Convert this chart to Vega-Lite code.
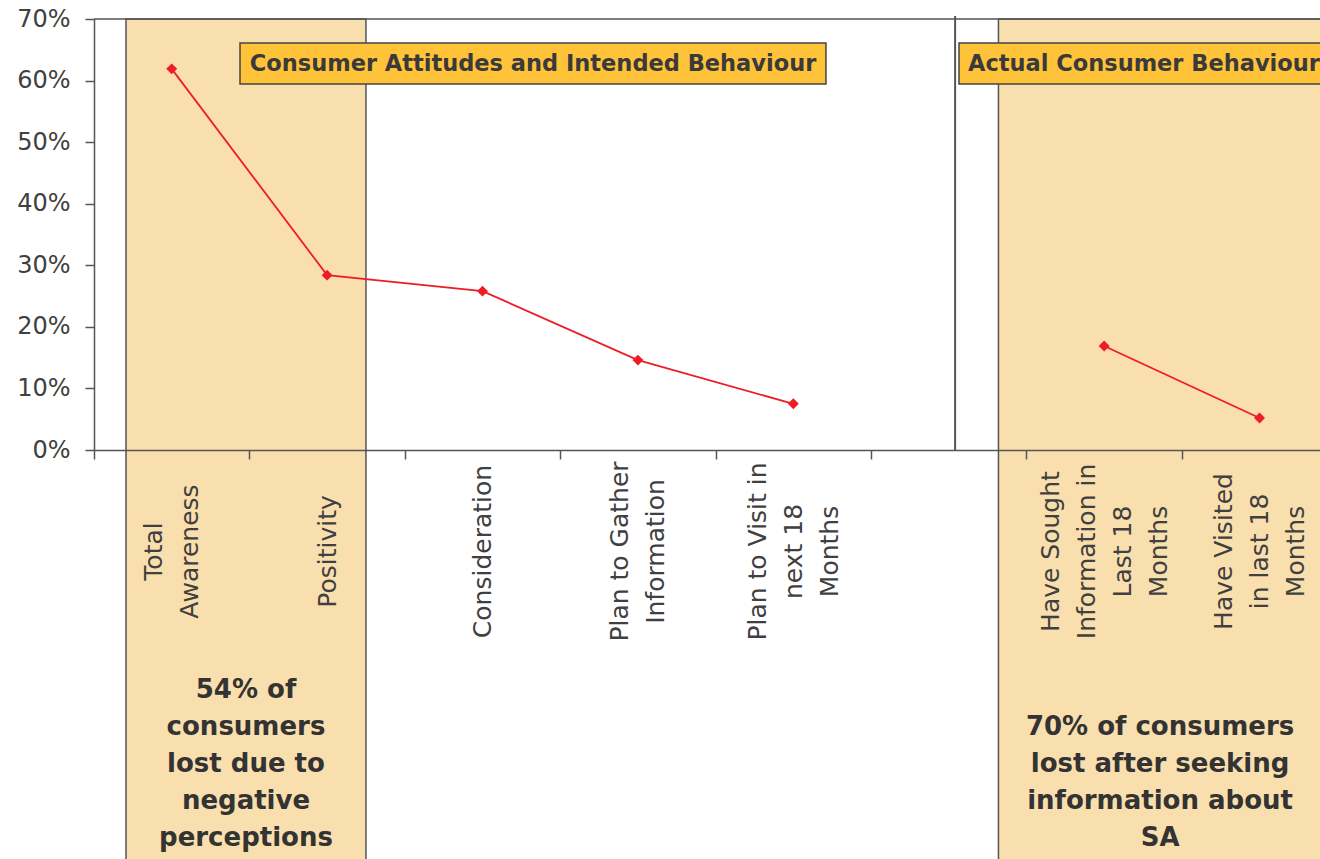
{
  "$schema": "https://vega.github.io/schema/vega-lite/v6.json",
  "autosize": "none",
  "width": 1226,
  "height": 431,
  "padding": {"left": 94, "top": 19, "right": 0, "bottom": 409},
  "background": "white",
  "view": {"stroke": null},
  "config": {"font": "DejaVu Sans"},
  "data": {
    "values": [
      {"category": "Total Awareness", "pos": 0.5, "value": 0.619, "stage": "Intended"},
      {"category": "Positivity", "pos": 1.5, "value": 0.284, "stage": "Intended"},
      {"category": "Consideration", "pos": 2.5, "value": 0.258, "stage": "Intended"},
      {"category": "Plan to Gather Information", "pos": 3.5, "value": 0.146, "stage": "Intended"},
      {"category": "Plan to Visit in next 18 Months", "pos": 4.5, "value": 0.075, "stage": "Intended"},
      {"category": "Have Sought Information in Last 18 Months", "pos": 6.5, "value": 0.169, "stage": "Actual"},
      {"category": "Have Visited in last 18 Months", "pos": 7.5, "value": 0.052, "stage": "Actual"}
    ]
  },
  "layer": [
    {
      "data": {"values": [{}]},
      "mark": {"type": "rect", "fill": "#f9dfad", "stroke": "#555555", "strokeWidth": 1.5},
      "encoding": {
        "x": {
          "datum": 0.206, "type": "quantitative",
          "scale": {"domain": [0, 7.889], "nice": false, "zero": false},
          "axis": {
            "values": [0.5, 1.5, 2.5, 3.5, 4.5, 5.5, 6.5, 7.5],
            "labelExpr": "datum.value == 0.5 ? ['Total', 'Awareness'] : datum.value == 1.5 ? 'Positivity' : datum.value == 2.5 ? 'Consideration' : datum.value == 3.5 ? ['Plan to Gather', 'Information'] : datum.value == 4.5 ? ['Plan to Visit in', 'next 18', 'Months'] : datum.value == 6.5 ? ['Have Sought', 'Information in', 'Last 18', 'Months'] : datum.value == 7.5 ? ['Have Visited', 'in last 18', 'Months'] : ''",
            "tickOffset": -77.7,
            "labelOffset": {
              "condition": [
                {"test": "datum.value == 0.5 || datum.value == 3.5", "value": 59.7},
                {"test": "datum.value == 4.5 || datum.value == 7.5", "value": 41.7},
                {"test": "datum.value == 6.5", "value": 23.7}
              ],
              "value": 77.7
            },
            "labelAngle": 270,
            "labelAlign": "center",
            "labelBaseline": "middle",
            "labelPadding": 92,
            "labelLineHeight": 36,
            "labelLimit": 600,
            "labelFont": "DejaVu Sans",
            "labelFontSize": 25,
            "labelColor": "#404040",
            "labelOverlap": false,
            "labelBound": false,
            "labelFlush": false,
            "tickSize": 9,
            "tickColor": "#555555",
            "tickWidth": 1.5,
            "domainColor": "#555555",
            "domainWidth": 1.5,
            "grid": false,
            "title": null,
            "zindex": 2
          }
        },
        "x2": {"datum": 1.75},
        "y": {
          "datum": 0.7, "type": "quantitative",
          "scale": {"domain": [0, 0.7], "nice": false},
          "axis": {
            "values": [0, 0.1, 0.2, 0.3, 0.4, 0.5, 0.6, 0.7],
            "format": ".0%",
            "labelFont": "DejaVu Sans",
            "labelFontSize": 24,
            "labelColor": "#404040",
            "labelPadding": 15,
            "labelBaseline": "middle",
            "tickSize": 9,
            "tickColor": "#555555",
            "tickWidth": 1.5,
            "domainColor": "#555555",
            "domainWidth": 1.5,
            "grid": false,
            "title": null,
            "zindex": 2
          }
        },
        "y2": {"datum": -0.7}
      }
    },
    {
      "data": {"values": [{}]},
      "mark": {"type": "rect", "fill": "#f9dfad", "stroke": "#555555", "strokeWidth": 1.5},
      "encoding": {
        "x": {"datum": 5.82, "type": "quantitative"},
        "x2": {"datum": 9},
        "y": {"datum": 0.7, "type": "quantitative"},
        "y2": {"datum": -0.7}
      }
    },
    {
      "data": {"values": [{}]},
      "mark": {"type": "rule", "stroke": "#555555", "strokeWidth": 1.5},
      "encoding": {
        "x": {"datum": 0, "type": "quantitative"},
        "x2": {"datum": 9},
        "y": {"datum": 0.7, "type": "quantitative"}
      }
    },
    {
      "data": {"values": [{}]},
      "mark": {"type": "rule", "stroke": "#555555", "strokeWidth": 2},
      "encoding": {
        "x": {"datum": 5.541, "type": "quantitative"},
        "y": {"datum": 0, "type": "quantitative"},
        "y2": {"datum": 0.705}
      }
    },
    {
      "mark": {"type": "line", "color": "#ee1c25", "strokeWidth": 1.8},
      "encoding": {
        "x": {"field": "pos", "type": "quantitative"},
        "y": {"field": "value", "type": "quantitative"},
        "detail": {"field": "stage"}
      }
    },
    {
      "mark": {"type": "point", "shape": "diamond", "filled": true, "color": "#ee1c25", "size": 120, "opacity": 1},
      "encoding": {
        "x": {"field": "pos", "type": "quantitative"},
        "y": {"field": "value", "type": "quantitative"}
      }
    },
    {
      "data": {"values": [{}]},
      "mark": {"type": "rect", "fill": "#ffc33a", "stroke": "#444444", "strokeWidth": 1.5},
      "encoding": {
        "x": {"datum": 0.9395, "type": "quantitative"},
        "x2": {"datum": 4.71},
        "y": {"datum": 0.661, "type": "quantitative"},
        "y2": {"datum": 0.5944}
      }
    },
    {
      "data": {"values": [{}]},
      "mark": {"type": "rect", "fill": "#ffc33a", "stroke": "#444444", "strokeWidth": 1.5},
      "encoding": {
        "x": {"datum": 5.566, "type": "quantitative"},
        "x2": {"datum": 9},
        "y": {"datum": 0.661, "type": "quantitative"},
        "y2": {"datum": 0.5944}
      }
    },
    {
      "data": {"values": [{}]},
      "mark": {"type": "text", "text": "Consumer Attitudes and Intended Behaviour", "font": "DejaVu Sans", "fontWeight": "bold", "fontSize": 22.5, "color": "#3a3a3a", "align": "center", "baseline": "middle"},
      "encoding": {
        "x": {"datum": 2.825, "type": "quantitative"},
        "y": {"datum": 0.6277, "type": "quantitative"}
      }
    },
    {
      "data": {"values": [{}]},
      "mark": {"type": "text", "text": "Actual Consumer Behaviour", "font": "DejaVu Sans", "fontWeight": "bold", "fontSize": 22.5, "color": "#3a3a3a", "align": "left", "baseline": "middle"},
      "encoding": {
        "x": {"datum": 5.624, "type": "quantitative"},
        "y": {"datum": 0.6277, "type": "quantitative"}
      }
    },
    {
      "data": {"values": [{}]},
      "mark": {"type": "text", "text": ["54% of", "consumers", "lost due to", "negative", "perceptions"], "font": "DejaVu Sans", "fontWeight": "bold", "fontSize": 26, "lineHeight": 37, "color": "#333333", "align": "center", "baseline": "middle"},
      "encoding": {
        "x": {"datum": 0.978, "type": "quantitative"},
        "y": {"datum": -0.3898, "type": "quantitative"}
      }
    },
    {
      "data": {"values": [{}]},
      "mark": {"type": "text", "text": ["70% of consumers", "lost after seeking", "information about", "SA"], "font": "DejaVu Sans", "fontWeight": "bold", "fontSize": 26, "lineHeight": 37, "color": "#333333", "align": "center", "baseline": "middle"},
      "encoding": {
        "x": {"datum": 6.86, "type": "quantitative"},
        "y": {"datum": -0.4499, "type": "quantitative"}
      }
    }
  ]
}
